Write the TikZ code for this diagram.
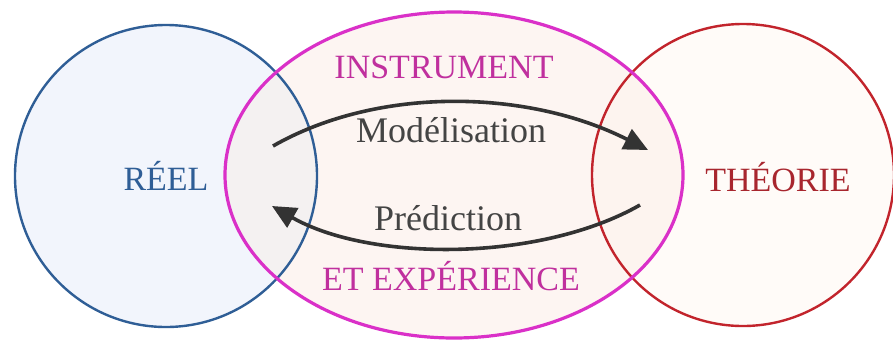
\documentclass[tikz,border=0pt]{standalone}
\usepackage{fontspec}
\setmainfont{Liberation Serif}
\usetikzlibrary{shapes.geometric,arrows.meta}
\definecolor{blueline}{HTML}{2F5E96}
\definecolor{bluefill}{HTML}{F2F5FC}
\definecolor{magline}{HTML}{DA30C8}
\definecolor{magtext}{HTML}{C0309E}
\definecolor{ellfill}{HTML}{FDF5F2}
\definecolor{redline}{HTML}{C2242C}
\definecolor{redtext}{HTML}{A8262E}
\definecolor{redfill}{HTML}{FFFBF8}
\definecolor{overlapB}{HTML}{F4F1F1}
\definecolor{overlapR}{HTML}{FDF4EF}
\definecolor{arrowc}{HTML}{333333}
\definecolor{labelc}{HTML}{444444}
\tikzset{
  capslabel/.style={anchor=base, inner sep=0pt, font=\fontsize{34}{40}\selectfont},
  smalllabel/.style={anchor=base, inner sep=0pt, text=labelc, font=\fontsize{36}{42}\selectfont},
  flow/.style={line width=3.6pt, draw=arrowc, -{Triangle[length=24pt,width=22pt]}},
  circ/.style={circle, inner sep=0pt, minimum size=302pt, line width=2.4pt},
}
\begin{document}
\begin{tikzpicture}[x=1pt,y=-1pt]
\useasboundingbox (0,0) rectangle (893,341);
\fill[white] (0,0) rectangle (893,341);
% fills
\fill[ellfill] (454,175) ellipse [x radius=229, y radius=163];
\fill[bluefill] (166,176) circle [radius=151];
\fill[redfill] (743,175) circle [radius=150];
\begin{scope}
  \clip (454,175) ellipse [x radius=229, y radius=163];
  \fill[overlapB] (166,176) circle [radius=151];
  \fill[overlapR] (743,175) circle [radius=150];
\end{scope}
% outlines
\node[circ, draw=blueline] (reel) at (166,176) {};
\node[circ, draw=redline] (theorie) at (743,175) {};
\node[ellipse, inner sep=0pt, minimum width=458pt, minimum height=326pt, line width=3.2pt, draw=magline] (instr) at (454,175) {};
% labels
\node[capslabel, text=blueline] (treel) at (166,190) {RÉEL};
\node[capslabel, text=redtext] (ttheo) at (778,191) {THÉORIE};
\node[capslabel, text=magtext] (tinstr) at (444,78) {INSTRUMENT};
\node[capslabel, text=magtext] (texp) at (451,290) {ET EXPÉRIENCE};
\node[smalllabel] (tmod) at (451,142) {Modélisation};
\node[smalllabel] (tpred) at (448,230) {Prédiction};
% arrows
\coordinate (m1) at (273,146);
\coordinate (m2) at (648,150);
\coordinate (p1) at (640,205);
\coordinate (p2) at (272,206);
\draw[flow] (m1) .. controls (380,85) and (530,90) .. (m2);
\draw[flow] (p1) .. controls (540,262) and (370,262) .. (p2);
\end{tikzpicture}
\end{document}
